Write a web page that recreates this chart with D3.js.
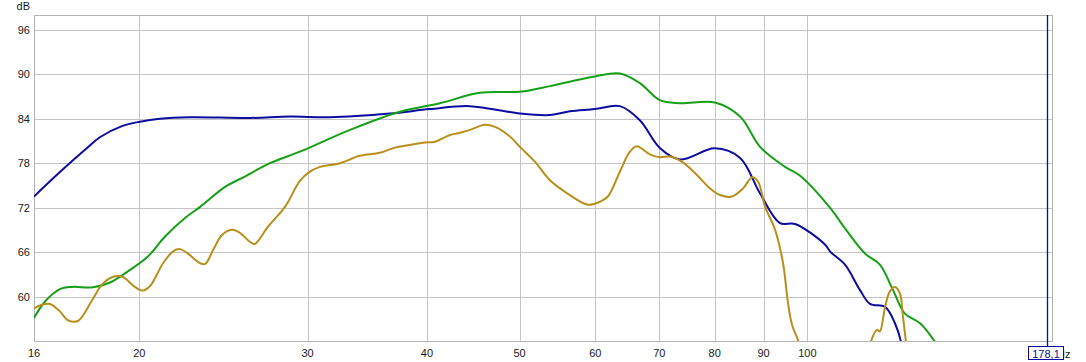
<!DOCTYPE html>
<html>
<head>
<meta charset="utf-8">
<script src="https://cdn.jsdelivr.net/npm/d3@7"></script>
<style>
body { margin: 0; background: #fff; }
text { font-family: "Liberation Sans", Arial, sans-serif; fill: #1a1a1a; }
.grid line { stroke: #c4c4c4; stroke-width: 1; shape-rendering: crispEdges; }
.trace { fill: none; stroke-width: 2; stroke-linejoin: round; }
</style>
</head>
<body>
<svg id="chart" width="1086" height="362"></svg>
<script>
// frequency span of the view (Hz) and level span (dB)
var freqRange = [15.52, 180.3];
var dbRange = [54, 98];

var xTicks = [20, 30, 40, 50, 60, 70, 80, 90, 100];
var xEdgeLabel = "16";
var yTicks = [60, 66, 72, 78, 84, 90, 96];
var cursorFreq = 178.1;
var cursorLabel = "178,1";

// blue trace
var blueFreq = [15.52, 16.52, 17.62, 18.19, 19.18, 20.03, 21.02, 22.60, 26.10, 28.75, 31.66, 36.58, 40.29, 44.36, 50.04, 53.79, 56.44, 59.94, 63.66, 66.80, 70.10, 73.56, 80.04, 85.05, 89.24, 93.65, 97.09, 104.4, 105.6, 109.5, 113.5, 116.3, 120.6, 123.5, 125.3, 126.5];
var blueDb   = [73.5, 76.8, 80.0, 81.5, 83.0, 83.6, 84.0, 84.2, 84.1, 84.3, 84.2, 84.7, 85.3, 85.7, 84.7, 84.5, 85.0, 85.3, 85.7, 83.8, 80.05, 78.5, 80.0, 78.7, 73.9, 69.9, 69.8, 67.0, 66.1, 64.3, 60.9, 59.0, 58.6, 56.4, 53.9, 50.0];

// green trace
var greenFreq = [15.52, 15.93, 16.52, 17.01, 17.89, 18.64, 19.56, 20.42, 21.28, 22.33, 23.16, 24.59, 25.79, 27.40, 29.45, 33.23, 37.47, 41.27, 45.45, 50.04, 53.79, 59.94, 63.66, 66.80, 70.10, 73.56, 80.04, 85.05, 89.24, 94.78, 98.27, 105.6, 109.5, 114.9, 119.1, 122.9, 126.5, 131.2, 136.0];
var greenDb   = [57.1, 59.3, 61.0, 61.3, 61.25, 61.9, 63.6, 65.4, 68.1, 70.6, 72.1, 74.8, 76.2, 78.0, 79.55, 82.5, 84.95, 86.1, 87.5, 87.65, 88.4, 89.7, 90.1, 88.8, 86.5, 86.1, 86.2, 84.3, 80.2, 77.5, 76.3, 72.0, 69.2, 65.8, 64.3, 60.9, 57.7, 56.4, 53.9];

// gold trace
var goldFreq = [15.52, 15.82, 16.13, 16.52, 16.84, 17.25, 17.85, 18.28, 18.73, 19.18, 19.79, 20.13, 20.52, 21.18, 21.70, 22.06, 22.49, 23.16, 23.44, 23.90, 24.41, 25.01, 25.49, 26.10, 26.42, 27.26, 28.41, 29.45, 30.17, 30.91, 32.43, 34.02, 35.70, 37.02, 38.39, 39.80, 40.78, 42.28, 43.31, 44.36, 45.99, 47.12, 48.85, 50.04, 51.88, 53.79, 56.44, 58.94, 60.67, 61.85, 63.66, 65.21, 66.32, 68.43, 70.10, 71.81, 74.09, 76.64, 79.08, 81.02, 83.42, 85.67, 87.54, 88.82, 90.34, 92.53, 94.32, 95.46, 96.38, 97.79, 99.8, 113.5, 115.8, 116.6, 118.3, 119.1, 120.6, 122.0, 123.5, 125.0, 125.9, 126.8, 127.6];
var goldDb   = [58.4, 58.9, 59.0, 58.0, 56.8, 56.7, 59.5, 61.6, 62.6, 62.7, 61.3, 60.8, 61.4, 64.5, 66.1, 66.4, 65.8, 64.5, 64.4, 66.3, 68.3, 69.0, 68.6, 67.4, 67.1, 69.4, 72.1, 75.6, 76.85, 77.5, 78.0, 79.0, 79.4, 80.1, 80.45, 80.8, 80.9, 81.8, 82.1, 82.5, 83.2, 82.9, 81.6, 80.2, 78.2, 75.7, 73.7, 72.4, 72.8, 73.5, 76.85, 79.55, 80.3, 79.2, 78.8, 78.9, 78.1, 76.4, 74.6, 73.7, 73.5, 74.6, 76.1, 75.5, 72.1, 69.0, 64.5, 59.1, 56.2, 54.1, 50.0, 50.0, 52.0, 54.0, 55.5, 55.3, 58.6, 60.7, 61.3, 60.4, 57.3, 53.9, 50.0];

var series = [
    {name: "blue", color: "#0c0ca0", freq: blueFreq, db: blueDb},
    {name: "green", color: "#17a017", freq: greenFreq, db: greenDb},
    {name: "gold", color: "#b98f1b", freq: goldFreq, db: goldDb}
];

var svg = d3.select("#chart");
var plotLeft = 34, plotRight = 1052, plotTop = 15, plotBottom = 341;

var x = d3.scaleLog().domain(freqRange).range([plotLeft, plotRight]);
var y = d3.scaleLinear().domain(dbRange).range([plotBottom, plotTop]);

svg.append("clipPath")
    .attr("id", "plotclip")
    .append("rect")
    .attr("x", plotLeft).attr("y", plotTop)
    .attr("width", plotRight - plotLeft).attr("height", plotBottom - plotTop);

// grid
var grid = svg.append("g").attr("class", "grid");
grid.selectAll("line.v")
    .data(xTicks)
    .enter().append("line")
    .attr("class", "v")
    .attr("x1", function(d) { return Math.round(x(d)) + 0.5; })
    .attr("x2", function(d) { return Math.round(x(d)) + 0.5; })
    .attr("y1", plotTop).attr("y2", plotBottom);
grid.selectAll("line.h")
    .data(yTicks)
    .enter().append("line")
    .attr("class", "h")
    .attr("x1", plotLeft).attr("x2", plotRight)
    .attr("y1", function(d) { return Math.round(y(d)) + 0.5; })
    .attr("y2", function(d) { return Math.round(y(d)) + 0.5; });

// frame
svg.append("rect")
    .attr("x", plotLeft + 0.5).attr("y", plotTop + 0.5)
    .attr("width", plotRight - plotLeft).attr("height", plotBottom - plotTop)
    .attr("fill", "none")
    .attr("stroke", "#b4b4b4")
    .attr("shape-rendering", "crispEdges");

// tick labels
svg.append("g").selectAll("text")
    .data(yTicks)
    .enter().append("text")
    .attr("x", 30)
    .attr("y", function(d) { return y(d) + 4; })
    .attr("text-anchor", "end")
    .attr("font-size", 11)
    .text(function(d) { return d; });

svg.append("text")
    .attr("x", 30).attr("y", 10)
    .attr("text-anchor", "end")
    .attr("font-size", 11)
    .text("dB");

svg.append("g").selectAll("text")
    .data(xTicks)
    .enter().append("text")
    .attr("x", function(d) { return x(d); })
    .attr("y", 357)
    .attr("text-anchor", "middle")
    .attr("font-size", 11)
    .text(function(d) { return d; });

svg.append("text")
    .attr("x", plotLeft).attr("y", 357)
    .attr("text-anchor", "middle")
    .attr("font-size", 11)
    .text(xEdgeLabel);

// traces
var line = d3.line()
    .x(function(d) { return x(d[0]); })
    .y(function(d) { return y(d[1]); })
    .curve(d3.curveCatmullRom.alpha(0.5));

svg.append("g")
    .attr("clip-path", "url(#plotclip)")
    .selectAll("path")
    .data(series)
    .enter().append("path")
    .attr("class", "trace")
    .attr("stroke", function(d) { return d.color; })
    .attr("d", function(d) { return line(d.freq.map(function(f, i) { return [f, d.db[i]]; })); });

// cursor
var cx = Math.round(x(cursorFreq)) + 0.5;
svg.append("line")
    .attr("x1", cx).attr("x2", cx)
    .attr("y1", plotTop).attr("y2", 347)
    .attr("stroke", "#0c0ca0")
    .attr("stroke-width", 1.3);

// unit label sits partly under the readout box, as in the original
svg.append("text")
    .attr("x", 1057).attr("y", 358)
    .attr("font-size", 11)
    .text("Hz");

svg.append("rect")
    .attr("x", 1028.5).attr("y", 346.5)
    .attr("width", 35).attr("height", 13)
    .attr("fill", "#fff")
    .attr("stroke", "#0c0ca0");

svg.append("text")
    .attr("x", 1046).attr("y", 357.5)
    .attr("text-anchor", "middle")
    .attr("font-size", 11)
    .style("fill", "#0c0ca0")
    .text(cursorLabel);
</script>
</body>
</html>
